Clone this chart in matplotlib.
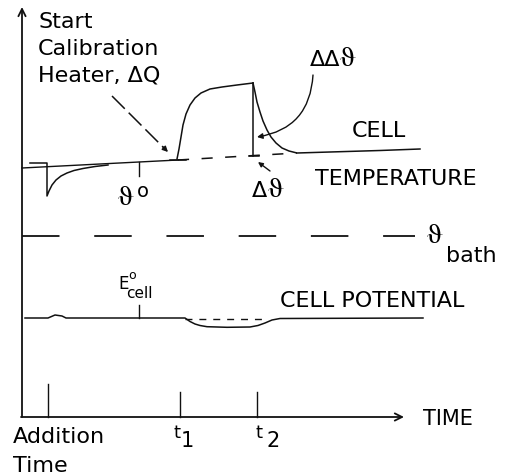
import matplotlib.pyplot as plt

plt.rcParams['font.family'] = ['DejaVu Sans']
plt.rcParams['lines.scale_dashes'] = False

# sketch units: x = time along the trace, y = level on the sheet (grows downward)
# baseline drift of the cell temperature
baseX = [22, 178]
baseY = [169, 161]

# addition of titrant: small lip, sudden drop, recovery to the baseline
addX = [30, 47, 47, 49, 52, 56, 61, 67, 74, 83, 95, 108]
addY = [164, 164, 197, 192, 186, 181, 177, 174, 171.5, 169.5, 167.5, 166]

# calibration heater switched on at t1
heatX = [177, 179, 181, 183, 186, 190, 195, 201, 210, 222, 237, 253]
heatY = [160, 150, 138, 126, 115, 106, 99, 94, 90, 88, 86, 84]

# heater off at t2, decay back to the new baseline
coolX = [253, 255, 257, 260, 263, 267, 271, 276, 282, 289, 297, 330, 380, 420]
coolY = [84, 93, 103, 113, 122, 131, 138, 144, 149, 152, 154, 153, 151.5, 150]

# extrapolated baseline under the heater pulse
extX = [178, 297]
extY = [161, 154]

# delta theta bar at t2
jumpX = [253, 253]
jumpY = [84, 157]

# bath temperature
bathX = [22, 415]
bathY = [237, 237]

# cell potential trace with dip during heating
potX = [25, 48, 55, 62, 66, 185, 190, 195, 200, 207, 227, 250, 258, 265, 272, 280, 423]
potY = [319, 319, 316, 317, 319, 319, 322.5, 325, 326.5, 327.7, 328.3, 328, 326.5, 324, 321, 319.5, 319]
potExtX = [185, 268]
potExtY = [320, 320]

# time marks: addition time, t1, t2
eventX = [48, 180, 257]
eventTop = [385, 393, 393]
axisY = 418

# reference marks for theta zero and E zero
thetaMarkX = [139, 139]
thetaMarkY = [163, 177]
eMarkX = [139, 139]
eMarkY = [306, 319]

ink = '#111111'

fig = plt.figure(figsize=(5.11, 4.77), dpi=100)
ax = fig.add_axes([0, 0, 1, 1])
ax.set_xlim(0, 511)
ax.set_ylim(477, 0)
ax.axis('off')

# axes with open arrow heads
ax.annotate('', xy=(22, 8), xytext=(22, axisY),
            arrowprops=dict(arrowstyle='->', lw=1.3, color=ink, mutation_scale=13, shrinkA=0, shrinkB=0))
ax.annotate('', xy=(404, axisY), xytext=(21, axisY),
            arrowprops=dict(arrowstyle='->', lw=1.3, color=ink, mutation_scale=13, shrinkA=0, shrinkB=0))

for x, top in zip(eventX, eventTop):
    ax.plot([x, x], [top, axisY], color=ink, lw=1.0)

# temperature curves
ax.plot(baseX, baseY, color=ink, lw=1.0)
ax.plot(addX, addY, color=ink, lw=1.1)
ax.plot(heatX, heatY, color=ink, lw=1.1)
ax.plot(coolX, coolY, color=ink, lw=1.1)
ax.plot(extX, extY, color=ink, lw=1.1, dashes=(8, 9))
ax.plot(jumpX, jumpY, color=ink, lw=1.1)
ax.plot([170, 186], [161, 161], color=ink, lw=1.1)
ax.plot([249, 259], [157, 157], color=ink, lw=1.1)
ax.plot(thetaMarkX, thetaMarkY, color=ink, lw=1.0)

# bath line
ax.plot(bathX, bathY, color=ink, lw=1.3, dashes=(27, 25))

# cell potential
ax.plot(potX, potY, color=ink, lw=1.1)
ax.plot(potExtX, potExtY, color=ink, lw=1.0, dashes=(5, 5))
ax.plot(eMarkX, eMarkY, color=ink, lw=1.0)

# dashed pointer to start of heater
ax.plot([112, 164], [97, 149], color=ink, lw=1.1, dashes=(13, 4))
ax.annotate('', xy=(168, 153), xytext=(163, 148),
            arrowprops=dict(arrowstyle='-|>', lw=1.0, color=ink, mutation_scale=8, shrinkA=0, shrinkB=0))

# curved pointer for delta delta theta
ax.annotate('', xy=(257, 138), xytext=(313, 76),
            arrowprops=dict(arrowstyle='-|>', lw=1.0, color=ink, mutation_scale=8,
                            connectionstyle='arc3,rad=-0.4', shrinkA=0, shrinkB=0))
# short pointer for delta theta
ax.annotate('', xy=(258, 163), xytext=(270, 172),
            arrowprops=dict(arrowstyle='-|>', lw=1.0, color=ink, mutation_scale=7, shrinkA=0, shrinkB=0))

# labels
big = 16
theta = 'ϑ'
thetaFont = dict(fontsize=21, va='baseline', family='STIXGeneral')
ax.text(38, 28, 'Start', fontsize=big, va='baseline')
ax.text(38, 55, 'Calibration', fontsize=big, va='baseline')
ax.text(38, 82, 'Heater, ΔQ', fontsize=big, va='baseline')
ax.text(310, 66, 'ΔΔ', fontsize=big, va='baseline')
ax.text(339, 66, theta, **thetaFont)
ax.text(352, 137, 'CELL', fontsize=big, va='baseline')
ax.text(315, 185, 'TEMPERATURE', fontsize=big, va='baseline')
ax.text(117, 205, theta, **thetaFont)
ax.text(137, 197, 'o', fontsize=14, va='baseline')
ax.text(252, 197, 'Δ', fontsize=big, va='baseline')
ax.text(267, 197, theta, **thetaFont)
ax.text(426, 243, theta, **thetaFont)
ax.text(446, 262, 'bath', fontsize=big, va='baseline')
ax.text(280, 307, 'CELL POTENTIAL', fontsize=big, va='baseline')
ax.text(118, 289, 'E', fontsize=12, va='baseline')
ax.text(128, 279, 'o', fontsize=9, va='baseline')
ax.text(126, 298, 'cell', fontsize=11, va='baseline')
ax.text(423, 425, 'TIME', fontsize=15, va='baseline')
ax.text(13, 443, 'Addition', fontsize=big, va='baseline')
ax.text(13, 472, 'Time', fontsize=big, va='baseline')
ax.text(173, 438, 't', fontsize=13, va='baseline')
ax.text(181, 447, '1', fontsize=15, va='baseline')
ax.text(256, 438, 't', fontsize=13, va='baseline')
ax.text(266, 447, '2', fontsize=15, va='baseline')

fig.savefig('out.png', dpi=100)
